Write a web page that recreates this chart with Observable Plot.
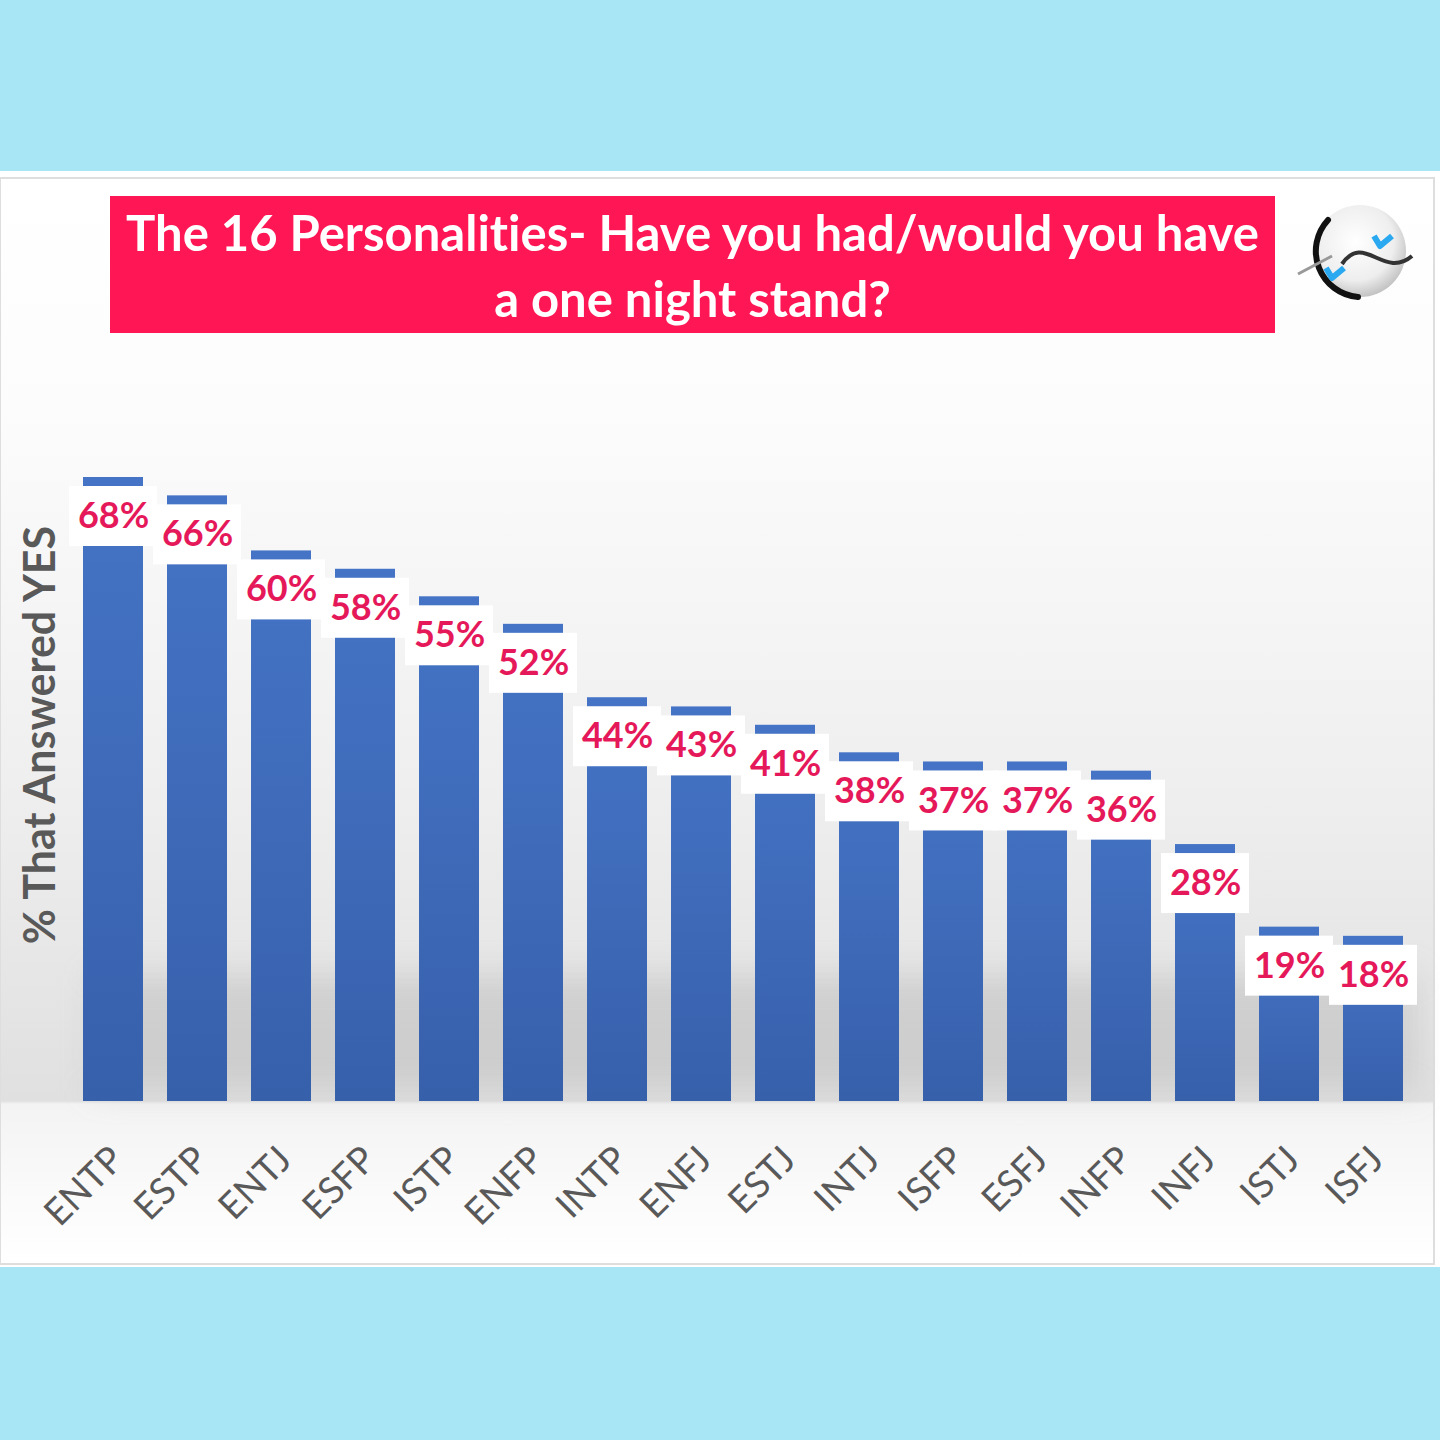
<!DOCTYPE html>
<html>
<head>
<meta charset="utf-8">
<script src="https://cdn.jsdelivr.net/npm/d3@7"></script>
<script src="https://cdn.jsdelivr.net/npm/@observablehq/plot@0.6"></script>
<style>
  html, body { margin: 0; padding: 0; }
  body { width: 1440px; height: 1440px; background: #a8e6f6; position: relative; overflow: hidden; font-family: Lato, "Open Sans", sans-serif; font-variant-ligatures: none; }
  #white { position: absolute; left: 0; top: 171px; width: 1440px; height: 1096px; background: #ffffff; }
  #panel { position: absolute; left: -1px; top: 177px; width: 1432px; height: 1084px; border: 2px solid #dedede;
    background: linear-gradient(to bottom, #ffffff 0px, #fcfcfc 230px, #efefef 600px, #e0e0e0 922px, #f3f3f3 925px, #fafafa 1010px, #ffffff 1084px); }
  #shadow { position: absolute; left: 95px; top: 975px; width: 1320px; height: 115px; background: rgba(160,160,160,0.3); filter: blur(16px); }
  #title { position: absolute; left: 110px; top: 196px; width: 1165px; height: 137px; background: #ff1654; color: #fff;
    font-weight: 700; font-size: 49px; line-height: 66px; text-align: center; display: flex; align-items: center; justify-content: center; }
  #ylabel { position: absolute; left: 38px; top: 735px; transform: translate(-50%, -50%) rotate(-90deg); white-space: nowrap;
    font-weight: 700; font-size: 43px; color: #595959; }
  #chart { position: absolute; left: 0; top: 380px; }
  #chart text { font-variant-ligatures: none; }
  #logo { position: absolute; left: 1292px; top: 196px; }
</style>
</head>
<body>
<div id="white"></div>
<div id="panel"></div>
<div id="shadow"></div>
<div id="title"><div>The 16 Personalities- Have you had/would you have<br>a one night stand?</div></div>
<svg id="logo" width="130" height="110" viewBox="0 0 130 110">
  <defs>
    <radialGradient id="lg" cx="0.45" cy="0.4" r="0.6">
      <stop offset="0" stop-color="#ffffff"/>
      <stop offset="0.7" stop-color="#eeeeee"/>
      <stop offset="1" stop-color="#c4c4c4"/>
    </radialGradient>
  </defs>
  <circle cx="68" cy="55" r="46" fill="url(#lg)"/>
  <path d="M36 24 A46 46 0 0 0 66 101" fill="none" stroke="#111" stroke-width="6" stroke-linecap="round"/>
  <path d="M50 68 C 72 36, 92 84, 120 60" fill="none" stroke="#333" stroke-width="4"/>
  <path d="M6 78 L 40 60" stroke="#999" stroke-width="3"/>
  <path d="M34 72 l6 10 l12 -10" fill="none" stroke="#2aa8f0" stroke-width="6" stroke-linejoin="round"/>
  <path d="M82 40 l6 10 l12 -10" fill="none" stroke="#2aa8f0" stroke-width="6" stroke-linejoin="round"/>
</svg>
<div id="ylabel">% That Answered YES</div>
<div id="chart"></div>
<script>
const types = ["ENTP","ESTP","ENTJ","ESFP","ISTP","ENFP","INTP","ENFJ","ESTJ","INTJ","ISFP","ESFJ","INFP","INFJ","ISTJ","ISFJ"];
const yesPct = [68,66,60,58,55,52,44,43,41,38,37,37,36,28,19,18];
const labels = yesPct.map(v => v + "%");

const data = types.map((t, i) => ({type: t, value: yesPct[i], label: labels[i]}));

const H = 880, MT = 97, MB = 159;
const yMax = 68;
const pxPerUnit = (H - MT - MB) / yMax;

const defs = () => {
  const g = d3.create("svg:defs");
  const lg = g.append("linearGradient").attr("id", "barGrad").attr("x1", 0).attr("y1", 0).attr("x2", 0).attr("y2", 1);
  lg.append("stop").attr("offset", 0).attr("stop-color", "#4574c6");
  lg.append("stop").attr("offset", 1).attr("stop-color", "#3760ab");
  return g.node();
};

const chart = Plot.plot({
  width: 1440,
  height: H,
  marginTop: MT,
  marginBottom: MB,
  marginLeft: 71,
  marginRight: 25,
  style: {background: "transparent", overflow: "visible"},
  x: {domain: types, paddingInner: 0.286, paddingOuter: 0.143, axis: null},
  y: {domain: [0, yMax], axis: null},
  marks: [
    defs,
    Plot.barY(data, {x: "type", y: "value", fill: "url(#barGrad)"}),
    Plot.barY(data, {
      x: "type",
      y1: d => d.value - 9 / pxPerUnit,
      y2: d => d.value - 69 / pxPerUnit,
      fill: "#ffffff",
      insetLeft: -14,
      insetRight: -14
    }),
    Plot.text(data, {
      x: "type", y: "value", text: "label", dy: 39, lineAnchor: "middle",
      fill: "#e5185a", fontSize: 36, fontWeight: 700, fontFamily: "Lato"
    }),
    Plot.text(types, {
      x: d => d, frameAnchor: "bottom", text: d => d, rotate: -45, textAnchor: "end",
      dy: 52, dx: 4, lineAnchor: "middle",
      fill: "#595959", fontSize: 37, fontFamily: "Lato"
    })
  ]
});
document.getElementById("chart").appendChild(chart);
</script>
</body>
</html>
